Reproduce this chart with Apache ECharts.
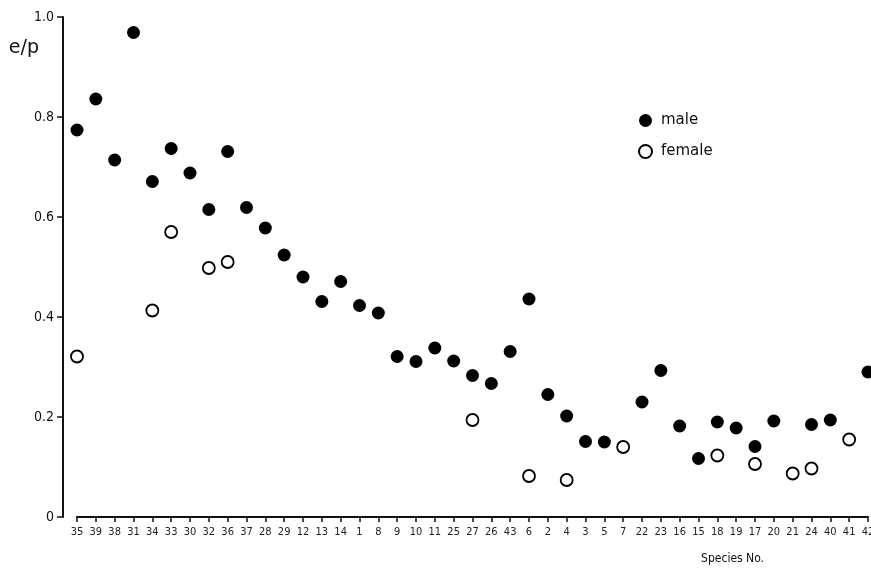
<!DOCTYPE html>
<html>
<head>
<meta charset="utf-8">
<script src="https://cdn.jsdelivr.net/npm/echarts@6/dist/echarts.min.js"></script>
<style>
  html, body { margin: 0; padding: 0; background: #fff; }
  #main { width: 871px; height: 577px; }
</style>
</head>
<body>
<div id="main"></div>
<script>
// species numbers along the x axis
var species = ['35','39','38','31','34','33','30','32','36','37','28','29','12','13','14','1','8','9','10','11','25','27','26','43','6','2','4','3','5','7','22','23','16','15','18','19','17','20','21','24','40','41','42'];

// e/p values, null = no point
var male = [0.774,0.836,0.714,0.969,0.671,0.737,0.688,0.615,0.731,0.619,0.578,0.524,0.480,0.431,0.471,0.423,0.408,0.321,0.311,0.338,0.312,0.283,0.267,0.331,0.436,0.245,0.202,0.151,0.150,null,0.230,0.293,0.182,0.117,0.190,0.178,0.141,0.192,null,0.185,0.194,null,0.290];
var female = [0.321,null,null,null,0.413,0.570,null,0.498,0.510,null,null,null,null,null,null,null,null,null,null,null,null,0.194,null,null,0.082,null,0.074,null,null,0.140,null,null,null,null,0.123,null,0.106,null,0.087,0.097,null,0.155,null];

var yTicks = [0, 0.2, 0.4, 0.6, 0.8, 1.0];

var chart = echarts.init(document.getElementById('main'));
var font = 'DejaVu Sans Condensed';

var option = {
  backgroundColor: '#fff',
  animation: false,
  textStyle: { fontFamily: font, color: '#111' },
  grid: { left: 77, right: 3, top: 17, bottom: 60, outerBoundsMode: 'none', containLabel: false },
  legend: {
    orient: 'vertical',
    left: 633,
    top: 108,
    itemGap: 16,
    itemWidth: 13,
    itemHeight: 13,
    textStyle: { fontFamily: 'DejaVu Sans', fontSize: 15, color: '#111', padding: [0, 0, 0, 4] },
    data: ['male', 'female']
  },
  xAxis: {
    type: 'category',
    data: species,
    boundaryGap: false,
    offset: 3,
    name: 'Species No.',
    nameLocation: 'end',
    nameGap: 0,
    nameTextStyle: {
      fontFamily: font, fontSize: 12, color: '#111',
      align: 'right', verticalAlign: 'top',
      padding: [36, 104, 0, 0]
    },
    axisLine: { lineStyle: { color: '#111', width: 2 } },
    axisTick: { length: 5, lineStyle: { color: '#111', width: 1.5 }, alignWithLabel: true },
    axisLabel: { interval: 0, fontSize: 11, color: '#222', margin: 7 },
    splitLine: { show: false }
  },
  yAxis: {
    type: 'value',
    min: 0,
    max: 1,
    interval: 0.2,
    offset: 14,
    name: 'e/p',
    nameLocation: 'end',
    nameGap: 0,
    nameTextStyle: {
      fontFamily: 'DejaVu Sans', fontSize: 19, color: '#111',
      align: 'right', verticalAlign: 'top', padding: [22, 24, 0, 0]
    },
    axisLine: { show: true, lineStyle: { color: '#111', width: 2 } },
    axisTick: { show: true, length: 6, lineStyle: { color: '#111', width: 1.5 } },
    axisLabel: {
      fontSize: 14, color: '#111', margin: 9,
      formatter: function (v) {
        return yTicks.indexOf(v) === 0 ? '0' : v.toFixed(1);
      }
    },
    splitLine: { show: false }
  },
  series: [
    {
      name: 'male',
      type: 'scatter',
      data: male,
      symbol: 'circle',
      symbolSize: 13,
      itemStyle: { color: '#000', opacity: 1 }
    },
    {
      name: 'female',
      type: 'scatter',
      data: female,
      symbol: 'circle',
      symbolSize: 12,
      itemStyle: { color: '#fff', borderColor: '#000', borderWidth: 1.8, opacity: 1 }
    }
  ]
};

chart.setOption(option);
</script>
</body>
</html>
